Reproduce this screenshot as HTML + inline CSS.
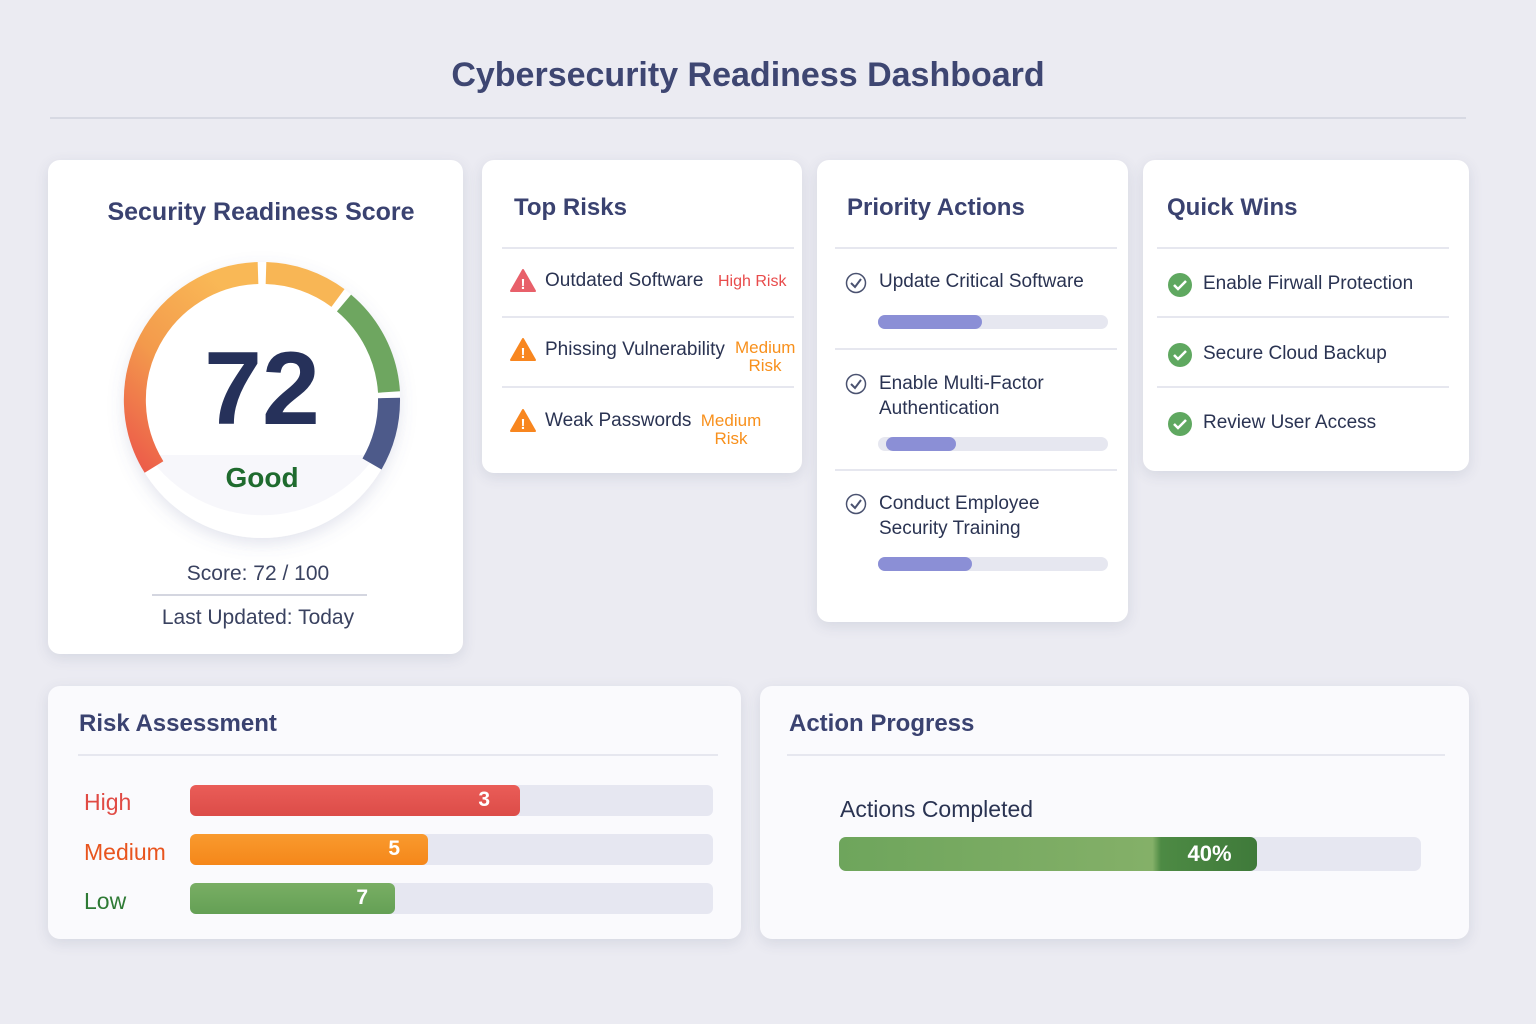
<!DOCTYPE html>
<html><head><meta charset="utf-8"><style>
body{margin:0;width:1536px;height:1024px;background:#ebebf2;font-family:"Liberation Sans",sans-serif;position:relative;overflow:hidden;color:#2a3352}
.a{position:absolute}
.card{position:absolute;background:#fff;border-radius:12px;box-shadow:0 4px 14px rgba(60,70,110,.12)}
.h{position:absolute;font-size:24px;font-weight:bold;color:#3a4270}
.ln{position:absolute;height:2px;background:#e6e7ef}
.t{position:absolute;font-size:19px;color:#2a3352}
.bar{position:absolute;height:14px;border-radius:7px;background:#e6e7f0}
.bar i{position:absolute;left:0;top:0;bottom:0;border-radius:7px;background:#8b8fd6}
</style></head><body>
<div class="a" style="left:0;width:1496px;top:56px;text-align:center;font-size:34px;font-weight:bold;color:#3e4672">Cybersecurity Readiness Dashboard</div>
<div class="ln" style="left:50px;width:1416px;top:117px;background:#d7d9e3"></div>

<div class="card" style="left:48px;top:160px;width:415px;height:494px"></div>
<div class="a" style="left:48px;width:426px;top:198px;text-align:center;font-size:25px;font-weight:bold;color:#3a4270">Security Readiness Score</div>
<svg class="a" style="left:0;top:0" width="520" height="660">
<defs><linearGradient id="g1" x1="0" y1="1" x2="0.6" y2="0"><stop offset="0" stop-color="#ec5a4a"/><stop offset=".5" stop-color="#f39a4c"/><stop offset="1" stop-color="#f9b856"/></linearGradient>
<filter id="sh"><feDropShadow dx="0" dy="6" stdDeviation="8" flood-color="#6670a0" flood-opacity=".18"/></filter></defs>
<circle cx="262" cy="400" r="138" fill="#fff" filter="url(#sh)"/>
<path d="M148 455 H376 A138 138 0 0 1 148 455Z" fill="#f7f7fb"/>
<g fill="none" stroke-width="22" stroke-linecap="butt">
<path d="M154 467 A127 127 0 0 1 258 273" stroke="url(#g1)"/>
<path d="M266 273 A127 127 0 0 1 338 298" stroke="#f8b655"/>
<path d="M344 303 A127 127 0 0 1 389 392" stroke="#6ea660"/>
<path d="M389 398 A127 127 0 0 1 372 464" stroke="#4d5a8a"/>
</g>
<text x="262" y="424" text-anchor="middle" font-size="104" font-weight="bold" fill="#26315a" font-family="Liberation Sans">72</text>
<text x="262" y="487" text-anchor="middle" font-size="28" font-weight="bold" fill="#1f6b2e" font-family="Liberation Sans">Good</text>
</svg>
<div class="a" style="left:48px;width:420px;top:562px;text-align:center;font-size:21px;color:#3a4260">Score: 72 / 100</div>
<div class="ln" style="left:152px;width:215px;top:594px;background:#d4d6e0"></div>
<div class="a" style="left:48px;width:420px;top:606px;text-align:center;font-size:21px;color:#3a4260">Last Updated: Today</div>

<div class="card" style="left:482px;top:160px;width:320px;height:313px"></div>
<div class="h" style="left:514px;top:194px">Top Risks</div>
<div class="ln" style="left:502px;width:292px;top:247px"></div>
<div class="ln" style="left:502px;width:292px;top:316px"></div>
<div class="ln" style="left:502px;width:292px;top:386px"></div>
<svg class="a" style="left:509px;top:268px" width="28" height="26"><path d="M14 2 L26 23 H2Z" fill="#e8606a" stroke="#e8606a" stroke-width="2" stroke-linejoin="round"/><text x="14" y="21" text-anchor="middle" font-size="15" font-weight="bold" fill="#fff">!</text></svg>
<svg class="a" style="left:509px;top:337px" width="28" height="26"><path d="M14 2 L26 23 H2Z" fill="#f8861f" stroke="#f8861f" stroke-width="2" stroke-linejoin="round"/><text x="14" y="21" text-anchor="middle" font-size="15" font-weight="bold" fill="#fff">!</text></svg>
<svg class="a" style="left:509px;top:408px" width="28" height="26"><path d="M14 2 L26 23 H2Z" fill="#f8861f" stroke="#f8861f" stroke-width="2" stroke-linejoin="round"/><text x="14" y="21" text-anchor="middle" font-size="15" font-weight="bold" fill="#fff">!</text></svg>
<div class="t" style="left:545px;top:270px">Outdated Software</div>
<div class="a" style="left:718px;top:273px;font-size:16px;color:#e84b4b">High Risk</div>
<div class="t" style="left:545px;top:339px">Phissing Vulnerability</div>
<div class="a" style="left:735px;top:339px;font-size:17px;color:#f8901c;text-align:center;line-height:18px;width:60px">Medium<br>Risk</div>
<div class="t" style="left:545px;top:410px">Weak Passwords</div>
<div class="a" style="left:697px;top:412px;font-size:17px;color:#f8901c;text-align:center;line-height:18px;width:68px">Medium<br>Risk</div>

<div class="card" style="left:817px;top:160px;width:311px;height:462px"></div>
<div class="h" style="left:847px;top:194px">Priority Actions</div>
<div class="ln" style="left:835px;width:282px;top:247px"></div>
<div class="ln" style="left:835px;width:282px;top:348px"></div>
<div class="ln" style="left:835px;width:282px;top:469px"></div>
<svg class="a" style="left:845px;top:272px" width="22" height="22"><circle cx="11" cy="11" r="9.5" fill="none" stroke="#4a5270" stroke-width="1.5"/><path d="M6 11 L10 15 L16 7" fill="none" stroke="#4a5270" stroke-width="2"/></svg>
<svg class="a" style="left:845px;top:373px" width="22" height="22"><circle cx="11" cy="11" r="9.5" fill="none" stroke="#4a5270" stroke-width="1.5"/><path d="M6 11 L10 15 L16 7" fill="none" stroke="#4a5270" stroke-width="2"/></svg>
<svg class="a" style="left:845px;top:493px" width="22" height="22"><circle cx="11" cy="11" r="9.5" fill="none" stroke="#4a5270" stroke-width="1.5"/><path d="M6 11 L10 15 L16 7" fill="none" stroke="#4a5270" stroke-width="2"/></svg>
<div class="t" style="left:879px;top:271px">Update Critical Software</div>
<div class="bar" style="left:878px;top:315px;width:230px"><i style="width:104px"></i></div>
<div class="t" style="left:879px;top:371px;line-height:25px">Enable Multi-Factor<br>Authentication</div>
<div class="bar" style="left:878px;top:437px;width:230px"><i style="left:8px;width:70px"></i></div>
<div class="t" style="left:879px;top:491px;line-height:25px">Conduct Employee<br>Security Training</div>
<div class="bar" style="left:878px;top:557px;width:230px"><i style="width:94px"></i></div>

<div class="card" style="left:1143px;top:160px;width:326px;height:311px"></div>
<div class="h" style="left:1167px;top:194px">Quick Wins</div>
<div class="ln" style="left:1157px;width:292px;top:247px"></div>
<div class="ln" style="left:1157px;width:292px;top:316px"></div>
<div class="ln" style="left:1157px;width:292px;top:386px"></div>
<svg class="a" style="left:1167px;top:272px" width="26" height="26"><circle cx="13" cy="13" r="12" fill="#5fa860"/><path d="M7 13 L11 17 L19 9" fill="none" stroke="#fff" stroke-width="2.5"/></svg>
<svg class="a" style="left:1167px;top:342px" width="26" height="26"><circle cx="13" cy="13" r="12" fill="#5fa860"/><path d="M7 13 L11 17 L19 9" fill="none" stroke="#fff" stroke-width="2.5"/></svg>
<svg class="a" style="left:1167px;top:411px" width="26" height="26"><circle cx="13" cy="13" r="12" fill="#5fa860"/><path d="M7 13 L11 17 L19 9" fill="none" stroke="#fff" stroke-width="2.5"/></svg>
<div class="t" style="left:1203px;top:273px">Enable Firwall Protection</div>
<div class="t" style="left:1203px;top:343px">Secure Cloud Backup</div>
<div class="t" style="left:1203px;top:412px">Review User Access</div>

<div class="card" style="left:48px;top:686px;width:693px;height:253px;background:#fafafd"></div>
<div class="h" style="left:79px;top:710px">Risk Assessment</div>
<div class="ln" style="left:78px;width:640px;top:754px"></div>
<div class="a" style="left:84px;top:789px;font-size:23px;color:#e04a44">High</div>
<div class="a" style="left:84px;top:839px;font-size:23px;color:#e8541e">Medium</div>
<div class="a" style="left:84px;top:888px;font-size:23px;color:#2e7a35">Low</div>
<div class="a" style="left:190px;top:785px;width:523px;height:31px;border-radius:6px;background:#e6e7f1"></div>
<div class="a" style="left:190px;top:785px;width:330px;height:31px;border-radius:6px;background:linear-gradient(#ea5d58,#dc4c48);color:#fff;font-weight:bold;font-size:21px;text-align:right;box-sizing:border-box;padding:3px 30px 0 0">3</div>
<div class="a" style="left:190px;top:834px;width:523px;height:31px;border-radius:6px;background:#e6e7f1"></div>
<div class="a" style="left:190px;top:834px;width:238px;height:31px;border-radius:6px;background:linear-gradient(#f99a2e,#f5871a);color:#fff;font-weight:bold;font-size:21px;text-align:right;box-sizing:border-box;padding:3px 28px 0 0">5</div>
<div class="a" style="left:190px;top:883px;width:523px;height:31px;border-radius:6px;background:#e6e7f1"></div>
<div class="a" style="left:190px;top:883px;width:205px;height:31px;border-radius:6px;background:linear-gradient(#79ae64,#64a055);color:#fff;font-weight:bold;font-size:21px;text-align:right;box-sizing:border-box;padding:3px 27px 0 0">7</div>

<div class="card" style="left:760px;top:686px;width:709px;height:253px;background:#fafafd"></div>
<div class="h" style="left:789px;top:710px">Action Progress</div>
<div class="ln" style="left:787px;width:658px;top:754px"></div>
<div class="a" style="left:840px;top:796px;font-size:23px;color:#2a3352">Actions Completed</div>
<div class="a" style="left:839px;top:837px;width:582px;height:34px;border-radius:7px;background:#e6e7f1"></div>
<div class="a" style="left:839px;top:837px;width:418px;height:34px;border-radius:7px;background:linear-gradient(90deg,#6ea55c,#84b068 75%,#4d8a44 77%,#3f7a3a)"></div>
<div class="a" style="left:1162px;top:841px;width:95px;text-align:center;font-size:22px;font-weight:bold;color:#fff">40%</div>
</body></html>
